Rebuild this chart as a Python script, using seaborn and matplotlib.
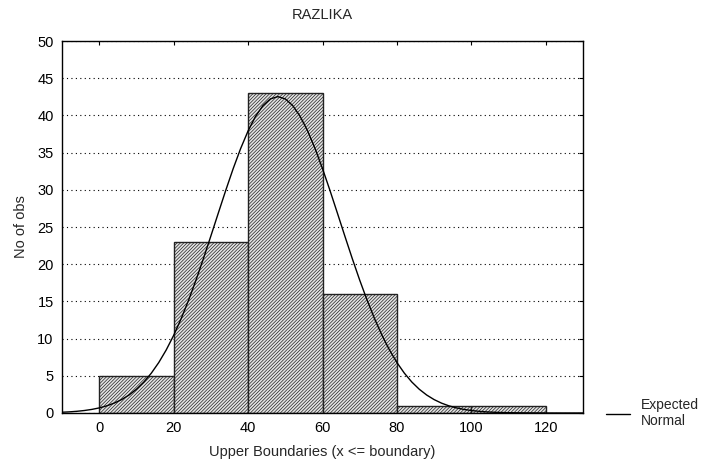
import numpy as np
import pandas as pd
import matplotlib
matplotlib.use("Agg")
import matplotlib.pyplot as plt
import seaborn as sns

# Histogram data (upper boundaries of bins, counts)
bin_edges = [0, 20, 40, 60, 80, 100, 120]
counts = [5, 23, 43, 16, 1, 1]

# Expected normal fit parameters (estimated from the curve)
fit_mean = 48.0
fit_sd = 16.7

sns.set_theme(style="white")
plt.rcParams['font.family'] = ['Liberation Sans', 'DejaVu Sans']
plt.rcParams['hatch.linewidth'] = 0.5
plt.rcParams['hatch.color'] = '#444444'

centers = [(a + b) / 2 for a, b in zip(bin_edges[:-1], bin_edges[1:])]
df = pd.DataFrame({'x': centers, 'n': counts})

fig = plt.figure(figsize=(7.04, 4.63), dpi=100)
ax = fig.add_axes([62 / 704, 1 - 413 / 463, (583 - 62) / 704, (413 - 41) / 463])

sns.histplot(data=df, x='x', weights='n', bins=bin_edges, ax=ax,
             stat='count', color='white', alpha=1, edgecolor='#222222',
             linewidth=1.0, zorder=2)
for p in ax.patches:
    p.set_hatch('//////////')
    p.set_facecolor('#e4e4e4')

# expected normal curve, scaled to counts per bin width
n_total = sum(counts)
width = bin_edges[1] - bin_edges[0]
xs = np.linspace(-10, 130, 71)
ys = n_total * width / (fit_sd * np.sqrt(2 * np.pi)) * np.exp(-(xs - fit_mean) ** 2 / (2 * fit_sd ** 2))
sns.lineplot(x=xs, y=ys, ax=ax, color='black', linewidth=1.0, zorder=3,
             label='Expected\nNormal')

ax.set_xlim(-10, 130)
ax.set_ylim(0, 50)
ax.set_xticks(range(0, 121, 20))
ax.set_yticks(range(0, 51, 5))
ax.yaxis.grid(True, linestyle=(0, (1, 3)), color='black', linewidth=0.8)
ax.set_axisbelow(True)
for s in ax.spines.values():
    s.set_color('black')
    s.set_linewidth(1.0)
ax.tick_params(direction='in', length=3, width=0.8, top=True, right=True,
               labelsize=10.5, colors='black', pad=6)

ax.set_title('RAZLIKA', fontsize=10.5, pad=16)
ax.set_xlabel('Upper Boundaries (x <= boundary)', fontsize=10.5, labelpad=7)
ax.set_ylabel('No of obs', fontsize=10.5, labelpad=7)

ax.legend(loc='center left', bbox_to_anchor=(606 / 704, 1 - 413 / 463),
          bbox_transform=fig.transFigure, frameon=False, borderpad=0,
          borderaxespad=0, fontsize=10, handlelength=1.7, handletextpad=0.8,
          labelspacing=0.2)

fig.savefig('out.png', dpi=100)
